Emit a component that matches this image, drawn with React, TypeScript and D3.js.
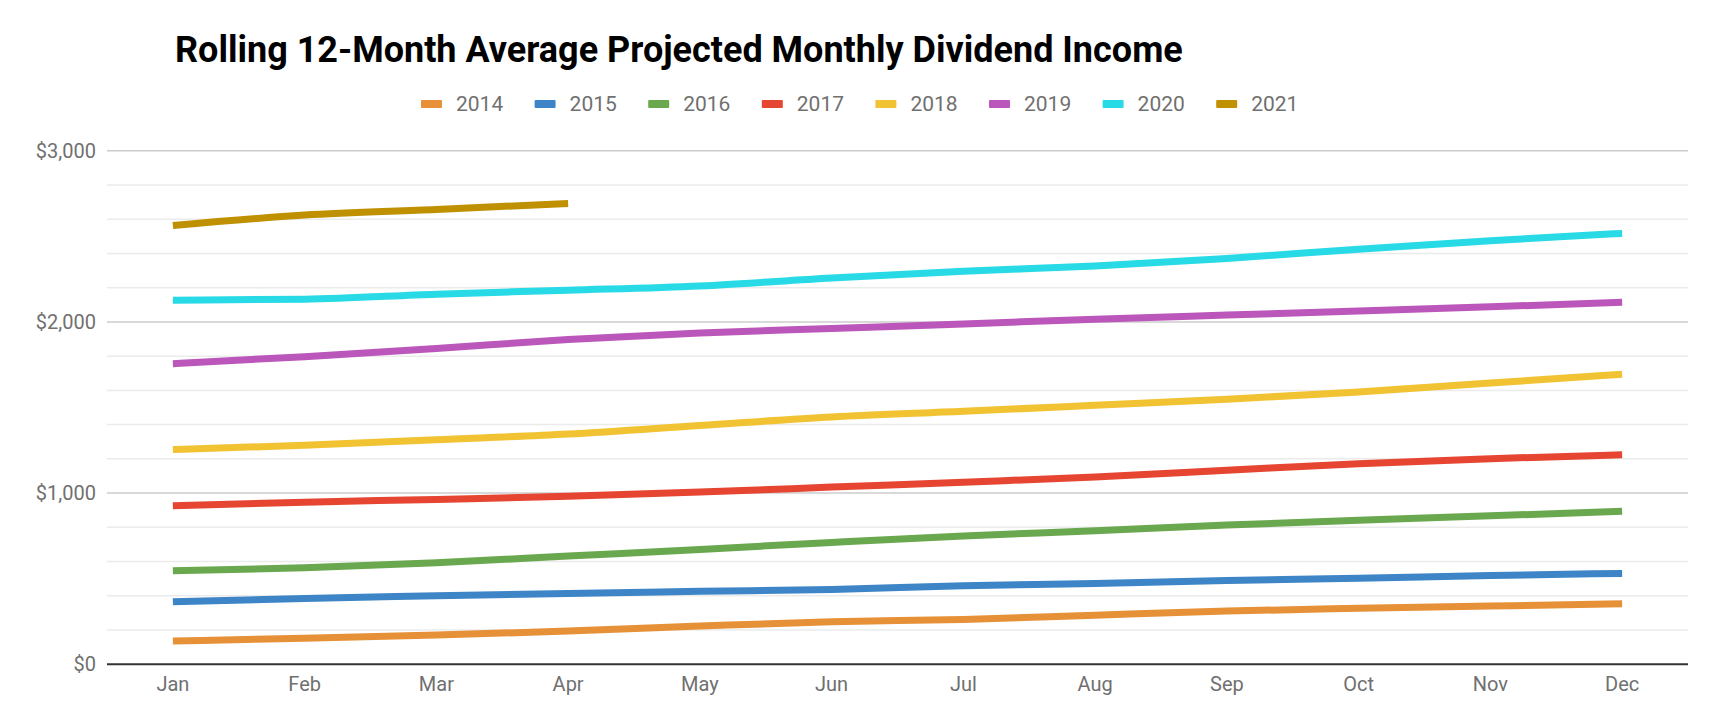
import React, { useEffect, useRef } from 'react';
import * as d3 from 'd3';

const months = ['Jan', 'Feb', 'Mar', 'Apr', 'May', 'Jun', 'Jul', 'Aug', 'Sep', 'Oct', 'Nov', 'Dec'];
const years = ['2014', '2015', '2016', '2017', '2018', '2019', '2020', '2021'];
const colors = ['#e69138', '#3d85c6', '#6aa84f', '#e64532', '#f1c232', '#bb57ba', '#27dae5', '#bf9000'];

const y2014 = [136, 152, 171, 194, 223, 249, 262, 287, 311, 327, 340, 354];
const y2015 = [365, 385, 400, 414, 426, 437, 459, 472, 490, 503, 519, 531];
const y2016 = [546, 564, 593, 632, 671, 712, 750, 780, 813, 842, 867, 894];
const y2017 = [926, 947, 963, 981, 1006, 1035, 1064, 1094, 1133, 1172, 1201, 1224];
const y2018 = [1255, 1279, 1312, 1345, 1395, 1445, 1478, 1513, 1548, 1591, 1643, 1694];
const y2019 = [1756, 1797, 1845, 1897, 1935, 1962, 1988, 2016, 2040, 2063, 2088, 2115];
const y2020 = [2127, 2133, 2162, 2185, 2210, 2257, 2296, 2327, 2370, 2425, 2474, 2517];
const y2021 = [2563, 2624, 2657, 2692];

const series = [y2014, y2015, y2016, y2017, y2018, y2019, y2020, y2021];

const yTicks = [0, 1000, 2000, 3000];
const yMinor = d3.range(0, 3001, 200);

const width = 1719;
const height = 725;

const App: React.FC = () => {
  const svgRef = useRef<SVGSVGElement>(null);

  useEffect(() => {
    if (!svgRef.current) return;
    const svg = d3.select(svgRef.current);
    svg.selectAll('*').remove();

    const margin = { top: 150.7, right: 31, bottom: 60.7, left: 107 };
    const x = d3.scalePoint<string>()
      .domain(months)
      .range([margin.left, width - margin.right])
      .padding(0.5);
    const y = d3.scaleLinear()
      .domain([0, 3000])
      .range([height - margin.bottom, margin.top]);

    const font = 'Roboto, sans-serif';
    const textGray = '#707070';

    // Title
    svg.append('text')
      .attr('x', 175)
      .attr('y', 62)
      .attr('font-family', font)
      .attr('font-weight', 700)
      .attr('font-size', 36)
      .attr('fill', '#000')
      .text('Rolling 12-Month Average Projected Monthly Dividend Income');

    // Legend
    const itemStep = 113.6;
    const legendStart = 421;
    const legend = svg.append('g');
    years.forEach((yr, i) => {
      const gx = legendStart + i * itemStep;
      legend.append('rect')
        .attr('x', gx)
        .attr('y', 100)
        .attr('width', 21)
        .attr('height', 8)
        .attr('rx', 1)
        .attr('fill', colors[i]);
      legend.append('text')
        .attr('x', gx + 35)
        .attr('y', 104)
        .attr('dy', '0.35em')
        .attr('font-family', font)
        .attr('font-size', 21)
        .attr('fill', textGray)
        .text(yr);
    });

    // Gridlines
    const grid = svg.append('g');
    grid.selectAll('line.minor')
      .data(yMinor.filter(v => v % 1000 !== 0))
      .enter()
      .append('line')
      .attr('x1', margin.left)
      .attr('x2', width - margin.right)
      .attr('y1', d => y(d))
      .attr('y2', d => y(d))
      .attr('stroke', '#ebebeb')
      .attr('stroke-width', 1.5);

    grid.selectAll('line.major')
      .data(yTicks.filter(v => v > 0))
      .enter()
      .append('line')
      .attr('x1', margin.left)
      .attr('x2', width - margin.right)
      .attr('y1', d => y(d))
      .attr('y2', d => y(d))
      .attr('stroke', '#cccccc')
      .attr('stroke-width', 1.5);

    // Y labels
    svg.append('g')
      .selectAll('text')
      .data(yTicks)
      .enter()
      .append('text')
      .attr('x', 96)
      .attr('y', d => y(d))
      .attr('dy', '0.35em')
      .attr('text-anchor', 'end')
      .attr('font-family', font)
      .attr('font-size', 20)
      .attr('fill', textGray)
      .text(d => d3.format('$,')(d));

    // X labels
    svg.append('g')
      .selectAll('text')
      .data(months)
      .enter()
      .append('text')
      .attr('x', d => x(d) as number)
      .attr('y', 691)
      .attr('text-anchor', 'middle')
      .attr('font-family', font)
      .attr('font-size', 20)
      .attr('fill', textGray)
      .text(d => d);

    // Lines
    const line = d3.line<number>()
      .x((_, i) => x(months[i]) as number)
      .y(d => y(d))
      .curve(d3.curveMonotoneX);

    svg.append('g')
      .selectAll('path')
      .data(series)
      .enter()
      .append('path')
      .attr('d', d => line(d))
      .attr('fill', 'none')
      .attr('stroke', (_, i) => colors[i])
      .attr('stroke-width', 7)
      .attr('stroke-linecap', 'butt')
      .attr('stroke-linejoin', 'round');

    // Baseline
    svg.append('line')
      .attr('x1', margin.left)
      .attr('x2', width - margin.right)
      .attr('y1', y(0))
      .attr('y2', y(0))
      .attr('stroke', '#333')
      .attr('stroke-width', 2);
  }, []);

  return (
    <svg
      ref={svgRef}
      width={width}
      height={height}
      style={{ position: 'absolute', left: 0, top: 0, background: '#fff' }}
    />
  );
};

export default App;
